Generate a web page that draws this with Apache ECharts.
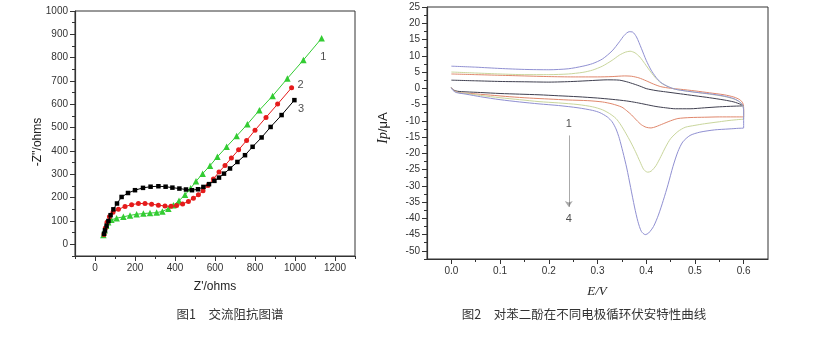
<!DOCTYPE html>
<html><head><meta charset="utf-8">
<script src="https://cdn.jsdelivr.net/npm/echarts@6/dist/echarts.min.js"></script>
<style>html,body{margin:0;padding:0;background:#fff}#c{width:836px;height:354px}</style>
</head><body><div id="c"></div>
<script>
// ---------- Figure 1: AC impedance (Nyquist) ----------
var eisX1 = [42,48,56,66,82,108,142,175,208,242,275,308,337,367,392,420,450,478,505,538,575,612,658,708,762,822,888,962,1042,1133];
var eisY1 = [40,60,80,95,105,112,118,124,129,132,134,136,141,153,168,187,212,240,270,303,337,375,418,464,515,575,636,711,790,883];
var eisX2 = [45,52,60,72,90,117,150,183,217,250,283,317,350,380,408,438,467,492,517,540,565,592,620,650,682,718,758,800,855,913,983];
var eisY2 = [42,70,95,118,138,150,162,170,175,175,172,168,164,163,166,173,184,197,212,230,252,280,310,338,370,405,445,489,544,601,671];
var eisX3 = [45,50,58,67,78,92,110,133,165,200,240,278,317,353,387,422,455,485,515,542,570,597,620,645,675,712,750,788,833,878,933,997];
var eisY3 = [45,60,80,100,125,150,175,203,220,232,242,247,249,247,243,239,235,232,236,246,258,272,286,303,325,353,382,418,458,503,554,618];
var eisLabelX = [1142,1028,1030];
var eisLabelY = [804,682,582];
var eisLabelText = ['1','2','3'];
var eisXMajor = [0,200,400,600,800,1000,1200];
var eisXMinor = [-100,100,300,500,700,900,1100,1300];
var eisYMajor = [0,100,200,300,400,500,600,700,800,900,1000];
var eisYMinor = [-50,50,150,250,350,450,550,650,750,850,950];

// ---------- Figure 2: cyclic voltammograms ----------
var cvE1 = [0,0.05,0.10,0.15,0.20,0.25,0.29,0.32,0.345,0.36,0.375,0.39,0.40,0.42,0.44,0.47,0.50,0.53,0.56,0.58,0.595,0.6,
            0.6,0.58,0.55,0.52,0.49,0.46,0.44,0.42,0.40,0.38,0.36,0.33,0.30,0.26,0.22,0.18,0.14,0.10,0.06,0.03,0.012,0.004,0];
var cvI1 = [2.5,2.3,2.1,2.0,1.9,2.1,2.4,2.6,2.5,2.0,1.3,0.5,-0.1,-0.7,-1.1,-1.7,-2.3,-2.9,-3.6,-4.2,-5.0,-5.4,
            -5.5,-5.5,-5.7,-6.0,-6.3,-6.3,-6.0,-5.6,-5.0,-4.4,-3.9,-3.4,-3.0,-2.6,-2.3,-2.0,-1.8,-1.6,-1.3,-1.1,-0.9,-0.5,0.2];
var cvE2 = [0,0.05,0.10,0.15,0.20,0.25,0.30,0.33,0.355,0.37,0.385,0.40,0.415,0.43,0.45,0.47,0.50,0.53,0.56,0.58,0.592,0.598,0.6,
            0.6,0.58,0.55,0.52,0.49,0.465,0.45,0.435,0.42,0.41,0.40,0.39,0.38,0.37,0.36,0.35,0.33,0.31,0.28,0.24,0.20,0.16,0.12,0.08,0.04,0.015,0.004,0];
var cvI2 = [4.4,4.2,4.0,3.8,3.6,3.5,3.5,3.6,3.8,3.7,3.2,2.3,1.3,0.5,0.0,-0.3,-0.8,-1.4,-2.0,-2.7,-3.5,-4.5,-6,
            -8.8,-8.8,-8.8,-8.9,-9.0,-9.3,-10.0,-10.9,-11.8,-12.2,-12.0,-11.2,-9.8,-8.2,-6.9,-5.8,-4.8,-4.2,-3.8,-3.6,-3.3,-3.0,-2.6,-2.1,-1.6,-1.3,-0.6,0.3];
var cvE3 = [0,0.05,0.10,0.15,0.20,0.24,0.27,0.29,0.31,0.33,0.345,0.357,0.367,0.377,0.387,0.397,0.407,0.418,0.43,0.445,0.46,0.48,0.50,0.53,0.56,0.58,0.592,0.598,0.6,
            0.6,0.59,0.57,0.55,0.52,0.50,0.48,0.465,0.45,0.44,0.43,0.42,0.41,0.403,0.395,0.387,0.378,0.368,0.358,0.348,0.338,0.325,0.31,0.29,0.26,0.22,0.18,0.14,0.10,0.06,0.03,0.01,0.003,0];
var cvI3 = [5.0,4.7,4.4,4.2,4.2,4.4,4.9,5.6,6.8,8.6,10.2,11.1,11.4,10.9,9.6,7.6,5.5,3.4,1.7,0.5,-0.3,-0.8,-1.2,-1.8,-2.5,-3.3,-4.2,-5.2,-6.5,
            -9.4,-9.6,-9.9,-10.3,-10.9,-11.4,-12.0,-13.3,-15.5,-18,-21,-23.8,-25.5,-25.8,-25,-22.5,-19.5,-16.5,-13.8,-11.3,-9.3,-7.8,-6.6,-5.7,-5.0,-4.5,-4.1,-3.5,-2.9,-2.2,-1.6,-1.2,-0.5,0.3];
var cvE4 = [0,0.05,0.10,0.15,0.20,0.24,0.27,0.29,0.31,0.33,0.345,0.355,0.365,0.372,0.38,0.39,0.40,0.41,0.42,0.43,0.445,0.46,0.48,0.50,0.53,0.56,0.58,0.592,0.598,0.6,
            0.6,0.59,0.57,0.54,0.51,0.49,0.475,0.465,0.455,0.445,0.435,0.425,0.415,0.405,0.398,0.39,0.383,0.376,0.368,0.36,0.352,0.345,0.338,0.33,0.32,0.305,0.29,0.26,0.22,0.18,0.14,0.10,0.06,0.03,0.01,0.003,0];
var cvI4 = [6.8,6.5,6.1,5.8,5.7,6.0,6.8,7.6,9.0,11.5,14.3,16.3,17.4,17.3,15.8,12.3,8.6,5.6,3.4,1.8,0.5,-0.3,-0.8,-1.2,-1.7,-2.4,-3.2,-4.2,-5.2,-7,
            -12.2,-12.3,-12.5,-12.8,-13.5,-14.5,-16.5,-19.5,-24,-29.5,-34.5,-39,-42.5,-44.5,-45,-44,-41,-36.5,-30.5,-24.5,-19.5,-15.5,-12.5,-10.3,-8.8,-7.5,-6.8,-6.0,-5.3,-4.8,-4.2,-3.5,-2.6,-1.8,-1.3,-0.6,0.2];
var cvArrowE = [0.241,0.241];
var cvArrowI = [-14.5,-36.5];
var cvLabelE = [0.241,0.241];
var cvLabelI = [-10.9,-40.1];
var cvLabelText = ['1','4'];
var cvXMajor = [0,0.1,0.2,0.3,0.4,0.5,0.6];
var cvXMinor = [0.05,0.15,0.25,0.35,0.45,0.55];
var cvYMajor = [-50,-45,-40,-35,-30,-25,-20,-15,-10,-5,0,5,10,15,20,25];
var cvYMinor = [-52.5,-47.5,-42.5,-37.5,-32.5,-27.5,-22.5,-17.5,-12.5,-7.5,-2.5,2.5,7.5,12.5,17.5,22.5];

function zip(a,b){return a.map(function(v,i){return [v,b[i]];});}
var FONT = 'Liberation Sans, Arial, sans-serif';
var AX = '#333';

function mainAxis(grid, pos, min, max, major, fmt){
  return {gridIndex:grid, position:pos, type:'value', min:min, max:max,
    axisLine:{show:true, onZero:false, lineStyle:{color:AX, width:1.2}},
    axisTick:{show:true, customValues:major, length:5, lineStyle:{color:AX}},
    axisLabel:{show:true, customValues:major, formatter:fmt, color:'#333', fontSize:10, fontFamily:FONT, margin:7},
    splitLine:{show:false}};
}
function minorAxis(grid, pos, min, max, minor){
  return {gridIndex:grid, position:pos, offset:0, type:'value', min:min, max:max,
    axisLine:{show:false, onZero:false},
    axisTick:{show:true, customValues:minor, length:3, lineStyle:{color:AX}},
    axisLabel:{show:false},
    splitLine:{show:false}};
}

var eisColors = ['#33cc33','#e51b1b','#000000'];
var cvColors = ['#404050','#e0876c','#c9d69c','#9090d2'];

var chart = echarts.init(document.getElementById('c'), null, {renderer:'canvas'});
var series = [
  {type:'line', xAxisIndex:0, yAxisIndex:0, data:zip(eisX1,eisY1), symbol:'triangle', symbolSize:6.5,
   itemStyle:{color:eisColors[0]}, lineStyle:{color:eisColors[0], width:1}, z:3},
  {type:'line', xAxisIndex:0, yAxisIndex:0, data:zip(eisX2,eisY2), symbol:'circle', symbolSize:5,
   itemStyle:{color:eisColors[1]}, lineStyle:{color:eisColors[1], width:1}, z:4},
  {type:'line', xAxisIndex:0, yAxisIndex:0, data:zip(eisX3,eisY3), symbol:'rect', symbolSize:4.5,
   itemStyle:{color:eisColors[2]}, lineStyle:{color:eisColors[2], width:1}, z:5},
  {type:'scatter', xAxisIndex:0, yAxisIndex:0, symbolSize:0, silent:true,
   data:eisLabelX.map(function(x,i){return {value:[x,eisLabelY[i]], name:eisLabelText[i]};}),
   label:{show:true, position:'inside', formatter:'{b}', color:'#222', fontSize:11, fontFamily:FONT}}
];
for (var s=0;s<4;s++){
  var E=[cvE1,cvE2,cvE3,cvE4][s], I=[cvI1,cvI2,cvI3,cvI4][s];
  series.push({type:'line', xAxisIndex:2, yAxisIndex:2, data:zip(E,I), showSymbol:false, symbol:'none',
    smooth:0.25, lineStyle:{color:cvColors[s], width:1}, z:3+s});
}
series.push({type:'lines', coordinateSystem:'cartesian2d', xAxisIndex:2, yAxisIndex:2,
  data:[{coords:zip(cvArrowE,cvArrowI)}], symbol:['none','arrow'], symbolSize:6,
  lineStyle:{color:'#555', width:1}, silent:true});
series.push({type:'scatter', xAxisIndex:2, yAxisIndex:2, symbolSize:0, silent:true,
   data:cvLabelE.map(function(x,i){return {value:[x,cvLabelI[i]], name:cvLabelText[i]};}),
   label:{show:true, position:'inside', formatter:'{b}', color:'#222', fontSize:11, fontFamily:FONT}});

chart.setOption({
  animation:false,
  backgroundColor:'#fff',
  grid:[
    {left:75, top:11, width:280, height:245, show:true, borderColor:'#333', borderWidth:1, backgroundColor:'transparent'},
    {left:427, top:7, width:341, height:252, show:true, borderColor:'#333', borderWidth:1, backgroundColor:'transparent'}
  ],
  xAxis:[
    mainAxis(0,'bottom',-100,1300,eisXMajor,function(v){return String(v);}),
    minorAxis(0,'bottom',-100,1300,eisXMinor),
    mainAxis(1,'bottom',-0.05,0.65,cvXMajor,function(v){return v.toFixed(1);}),
    minorAxis(1,'bottom',-0.05,0.65,cvXMinor)
  ],
  yAxis:[
    mainAxis(0,'left',-50,1000,eisYMajor,function(v){return String(v);}),
    minorAxis(0,'left',-50,1000,eisYMinor),
    mainAxis(1,'left',-52.5,25,cvYMajor,function(v){return String(v);}),
    minorAxis(1,'left',-52.5,25,cvYMinor)
  ],
  series:series,
  graphic:[
    {type:'text', x:38, y:142, rotation:Math.PI/2, style:{text:"-Z''/ohms", font:'12px '+FONT, fill:'#222', align:'center', verticalAlign:'middle'}},
    {type:'text', x:215, y:287, style:{text:"Z'/ohms", font:'12px '+FONT, fill:'#222', align:'center', verticalAlign:'middle'}},
    {type:'text', x:383, y:128, rotation:Math.PI/2, style:{text:'{i|Ip}/μA', font:'13px '+FONT, fill:'#222', align:'center', verticalAlign:'middle',
      rich:{i:{fontStyle:'italic', fontFamily:'Liberation Serif, serif', fontSize:14, fill:'#222'}}}},
    {type:'text', x:597, y:292, style:{text:'E/V', font:'italic 13px Liberation Serif, serif', fill:'#222', align:'center', verticalAlign:'middle'}},
    {type:'text', x:230, y:314, style:{text:'图1　交流阻抗图谱', font:'12.5px "Noto Sans CJK SC", sans-serif', fill:'#333', align:'center', verticalAlign:'middle'}},
    {type:'text', x:584, y:314, style:{text:'图2　对苯二酚在不同电极循环伏安特性曲线', font:'12.5px "Noto Sans CJK SC", sans-serif', fill:'#333', align:'center', verticalAlign:'middle'}}
  ]
});
</script>
</body></html>
